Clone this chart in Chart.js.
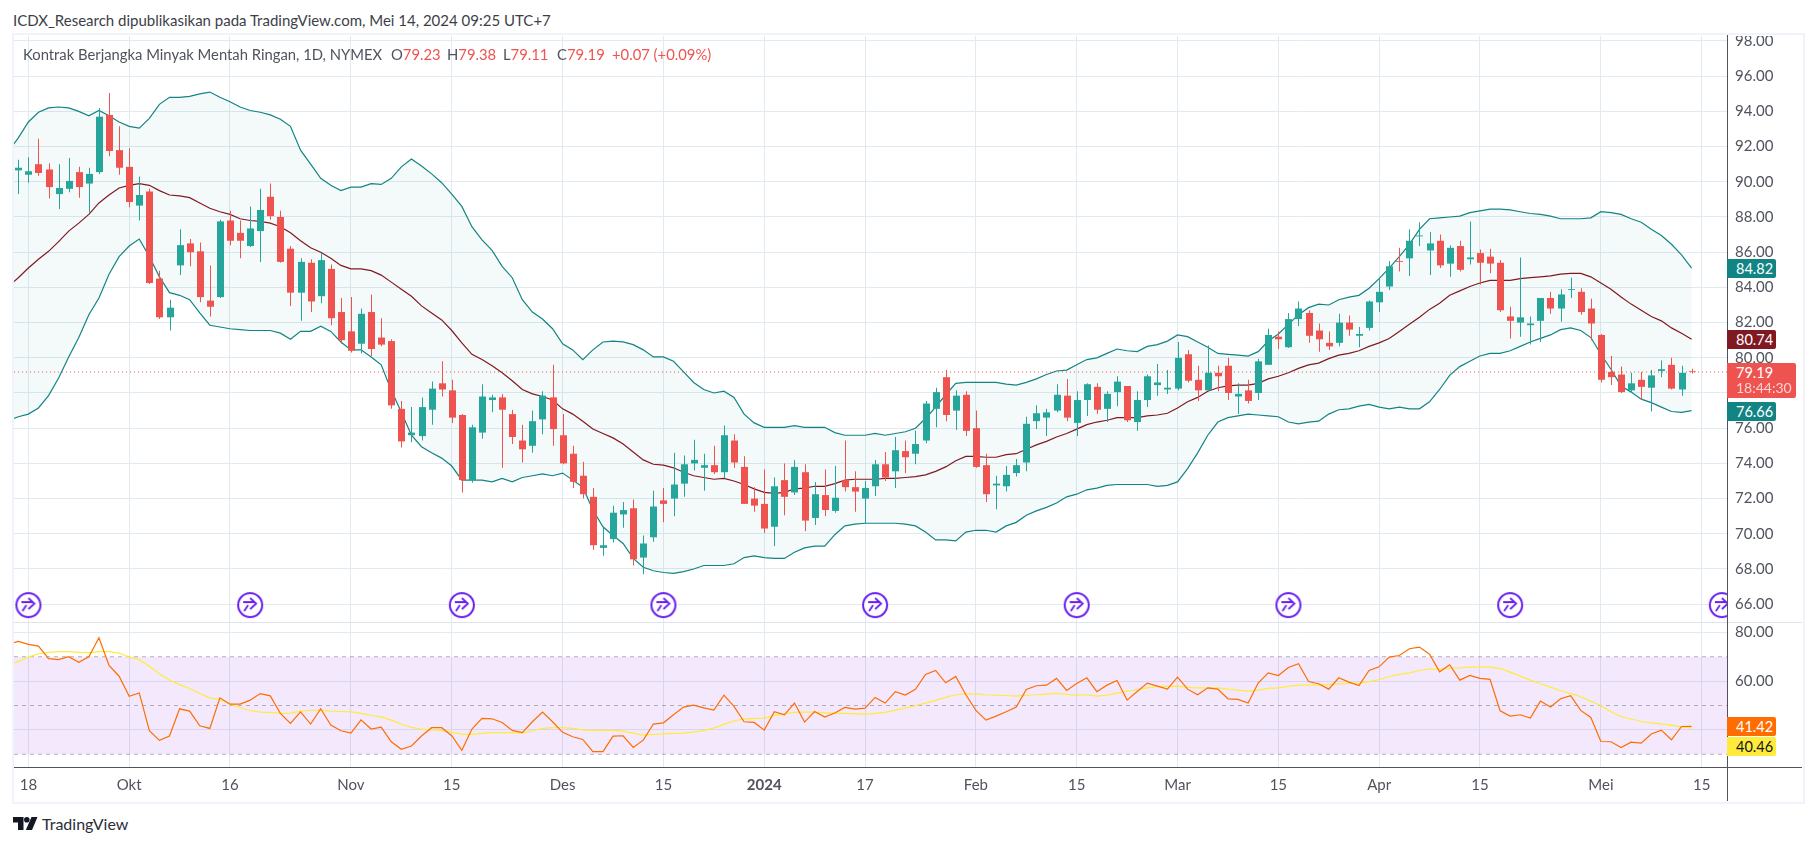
<!DOCTYPE html>
<html>
<head>
<meta charset="utf-8">
<title>Kontrak Berjangka Minyak Mentah Ringan</title>
<script src="https://cdn.jsdelivr.net/npm/chart.js@4"></script>
<style>
  html, body { margin: 0; background: #fff; overflow: hidden; font-family: Lato, sans-serif; }
  canvas { position: absolute; }
  .abs { position: absolute; white-space: nowrap; }
  .tag { position: absolute; left: 1727px; width: 40px; padding-left: 9px; height: 19px; line-height: 19px; color: #fff; font-size: 14.5px; border-radius: 0 2px 2px 0; }
</style>
</head>
<body>
<div class="abs" style="left:13px;top:11px;font-size:15px;color:#3d3f48">ICDX_Research dipublikasikan pada TradingView.com, Mei 14, 2024 09:25 UTC+7</div>
<div class="abs" style="left:12px;top:33px;width:1789px;height:767px;border:2px solid #f0f3fa"></div>

<canvas id="priceChart" width="1788" height="586" style="left:14px;top:36px"></canvas>
<canvas id="rsiChart" width="1788" height="178" style="left:14px;top:623px"></canvas>

<div class="abs" style="left:14px;top:622px;width:1788px;height:1px;background:#dfe3ee"></div>
<div class="abs" style="left:14px;top:767px;width:1788px;height:1px;background:#50535e"></div>
<div class="abs" style="left:1727px;top:35px;width:1px;height:766px;background:#50535e"></div>

<div class="abs" style="left:23px;top:45px;font-size:14.8px;color:#50535e">Kontrak Berjangka Minyak Mentah Ringan, 1D, NYMEX</div>
<div class="abs" style="left:391px;top:45px;font-size:14.8px;color:#50535e">O<span style="color:#ef5350">79.23</span></div>
<div class="abs" style="left:447px;top:45px;font-size:14.8px;color:#50535e">H<span style="color:#ef5350">79.38</span></div>
<div class="abs" style="left:503px;top:45px;font-size:14.8px;color:#50535e">L<span style="color:#ef5350">79.11</span></div>
<div class="abs" style="left:557px;top:45px;font-size:14.8px;color:#50535e">C<span style="color:#ef5350">79.19</span></div>
<div class="abs" style="left:612px;top:45px;font-size:14.8px;color:#ef5350">+0.07 (+0.09%)</div>

<div class="tag" style="top:259px;background:#138484">84.82</div>
<div class="tag" style="top:330px;background:#801922">80.74</div>
<div class="tag" style="top:363px;width:60px;height:35px;background:#ef5350">79.19<div style="line-height:15px;font-size:14px;opacity:.75;margin-top:-2px">18:44:30</div></div>
<div class="tag" style="top:402px;background:#138484">76.66</div>
<div class="tag" style="top:717px;background:#ff6d00">41.42</div>
<div class="tag" style="top:737px;background:#ffeb3b;color:#131722">40.46</div>

<svg class="abs" style="left:13px;top:817px" width="25" height="13" viewBox="0 0 25 13" fill="#131722">
  <polygon points="0,0 10.5,0 10.5,13 5,13 5,5.5 0,5.5"/><circle cx="13.8" cy="2.8" r="2.8"/><polygon points="18.5,0 24.5,0 19,13 12.8,13"/>
</svg>
<div class="abs" style="left:42px;top:814px;font-size:16px;color:#2a2e39">TradingView</div>

<script>
// values, first candle is the one at the left edge
const opens = [90.65,90.4,91,90.7,89.3,89.6,90.55,89.9,90.55,93.8,
  91.8,90.85,88.65,89.45,84.5,82.3,85.25,86.5,86.05,83.25,
  83.45,87.8,87.1,86.35,87.2,89.15,88,86.2,83.7,85.4,
  83.5,85.05,82.6,81.5,80.8,82.6,81.15,80.95,77.1,75.6,
  75.55,77.05,78.55,78.15,76.75,73.05,75.75,77.6,77.75,76.8,
  75.3,75,76.5,77.75,75.6,74.55,73.3,72.1,69.2,69.7,
  71.1,71.45,68.65,69.8,71.9,72,72.85,74,73.75,73.9,
  73.5,75.3,73.8,72,71.7,70.4,73.05,72.35,73.5,70.9,
  72.2,71.3,73.05,72.65,72,72.7,73.95,73.55,74.7,74.55,
  75.3,77.1,78.9,77,77.9,76,73.9,72.75,72.7,73.45,
  74.05,76.4,76.6,77,77.85,76.3,77.6,78.35,77.1,78.05,
  78.4,76.35,77.6,78.45,78.2,78.25,80.2,78.75,78.15,79.15,
  79.55,77.8,78.15,78,79.6,81.2,80.6,82.2,82.55,81.55,
  80.85,80.85,82,81.25,81.7,83.15,84.05,85.5,85.65,86.9,
  86.1,86.65,85.35,86.35,85.6,85.95,85.75,85.4,82.35,82,
  81.85,82.1,83.4,82.8,83.85,83.75,82.8,81.3,79.2,79.05,
  78.15,78.75,78.3,79.25,79.6,78.2,79.23];
const highs = [91.25,91.4,92.45,91.05,91,91.35,90.85,90.8,94.2,95.05,
  93.15,91.9,90.3,89.6,84.95,83.3,87.3,86.75,86.55,85.25,
  87.85,88.35,87.8,88.6,89.6,89.9,88.35,86.35,85.65,85.6,
  85.95,85.3,83.4,83.45,82.8,83.6,82.25,81.05,77.55,77.2,
  77.75,78.65,79.8,78.75,76.8,76.2,78.5,77.9,77.95,77.05,
  76.2,77,78.1,79.6,76.8,75,74.1,72.6,70.35,71.6,
  71.8,71.95,69.9,72.45,72.6,74.6,74.45,75.35,74.55,75,
  76.15,75.65,74.4,72.65,73.65,73.2,74,74.2,73.95,72.95,
  73.65,73.85,75.3,73.55,73,74.2,74.65,75.5,75.3,75.85,
  77.55,78.3,79.3,78.15,78.1,77,74.55,73.3,73.85,74.25,
  76.65,77.3,77.1,78.5,78.8,78.1,78.55,78.55,78.1,78.95,
  78.4,78.1,79.05,79.65,79.3,80.9,80.45,79.55,80.7,79.55,
  80,78.55,78.75,79.95,81.65,81.5,82.55,83.2,82.7,81.95,
  81.5,82.5,82.4,81.75,83.25,84.5,85.5,86.25,87.3,87.7,
  87.15,87,86.4,86.65,87.75,86.15,86.2,85.55,82.9,85.7,
  82.35,83.4,83.75,83.9,84.55,83.95,83.35,81.35,80.1,79.5,
  79.15,79.2,79.3,79.85,80,79.55,79.38];
const lows = [89.3,89.95,90.35,89.05,88.45,89.4,89.1,88.25,90.45,91.45,
  90.4,88.55,87.8,84.2,82.2,81.55,84.7,85.2,83.15,82.35,
  83.4,86.4,85.65,86.3,85.45,87.85,85.4,82.95,82.1,82.6,
  83.1,81.85,80.8,80.3,80.25,80.1,80.65,77.1,74.9,75.2,
  75.3,76.2,77.8,76.3,72.35,72.9,75.4,76.9,73.75,75.1,
  74.05,74.6,75.65,75,73.95,72.6,72,69.1,68.75,69.5,
  70.35,68.2,67.7,69.55,70.65,71,72.1,73.6,72.45,73.4,
  73.15,73.75,71.7,71.25,70.05,69.3,71.05,72.2,70.15,70.5,
  71,71.2,72.4,71.25,70.55,72.15,73,72.6,73.45,73.95,
  75.15,76.05,76.4,75.9,75.55,73.75,71.8,71.4,72.4,73.25,
  73.55,75.95,75.55,76.9,76.4,75.55,76.7,76.8,76.35,77.25,
  76.35,75.85,77.2,77.85,77.95,78.15,78.6,77.55,78.1,78.1,
  77.6,76.8,77.4,77.6,79.6,80.5,80.55,81.8,80.85,80.35,
  80.45,80.65,81.25,80.6,81.55,82.6,83.85,84.9,84.65,86.35,
  84.7,85.1,84.6,84.9,85.3,84.15,84.8,82.6,81.1,81.2,
  80.75,80.9,82.5,82.05,83.4,82.45,81,78.6,78.45,78,
  78,77.6,76.95,78.9,78.2,77.85,79.11];
const closes = [90.8,90.6,90.5,89.7,89.65,90.05,89.7,90.45,93.7,91.75,
  90.8,88.85,89.25,84.25,82.3,82.85,86.4,86,83.45,82.9,
  87.75,86.65,86.65,87.35,88.4,88.05,85.45,83.7,85.45,83.2,
  85.55,82.25,81,80.4,82.5,80.5,80.75,77.3,75.25,75.75,
  77.2,78.25,78.2,76.6,73.05,76.05,77.8,77.75,77.05,75.5,
  74.8,76.4,77.85,75.95,74,72.95,72.25,69.35,69.35,71.2,
  71.35,68.55,69.45,71.55,71.7,72.8,73.95,74.2,73.9,73.5,
  75.6,74.05,71.7,71.6,70.3,72.7,72.1,73.8,70.75,72.25,
  71.35,72.05,72.65,72.4,72.6,73.95,73.2,74.75,74.35,75.1,
  77.4,78.05,76.75,77.85,75.85,73.8,72.25,72.85,73.35,73.9,
  76.25,76.85,76.9,77.9,76.6,77.6,78.5,77.05,77.95,78.65,
  76.45,77.6,78.95,78.6,78.3,80,78.7,78.15,79.15,78.95,
  78,77.95,77.55,79.8,81.3,81.05,82.2,82.8,81.25,81.05,
  80.65,82,81.6,81.35,83.2,83.75,85.2,85.45,86.65,86.95,
  86.5,85.25,86.25,85,85.7,85.4,85.35,82.7,82.1,82.3,
  81.95,83.4,82.8,83.6,83.9,82.6,81.95,78.75,78.9,78.05,
  78.55,78.35,79,79.35,78.25,79.15,79.19];

// the indicator lines start one bar earlier, off the left edge
const bandUpper = [91.7,92.5,93.4,93.95,94.2,94.25,94.2,94,93.75,94.05,
  93.75,93.4,93.15,93.05,93.6,94.4,94.8,94.8,94.85,95,
  95.1,94.8,94.55,94.25,94.05,93.95,93.8,93.55,93.15,91.8,
  91,90.2,89.8,89.5,89.7,89.7,89.9,89.85,90.2,90.85,
  91.3,90.9,90.45,89.95,89.3,88.6,87.45,86.7,86.1,85.2,
  84.55,83.3,82.6,82.2,81.65,80.8,80.45,79.9,80.45,80.9,
  80.95,80.9,80.75,80.45,80.05,80.05,79.8,79.2,78.6,78.2,
  78,78.1,77.75,76.8,76.3,76.05,76.05,76.05,76.15,76.05,
  76.05,76.05,75.75,75.6,75.6,75.6,75.7,75.6,75.7,75.8,
  76,76.55,77.2,77.9,78.55,78.6,78.6,78.6,78.6,78.5,
  78.45,78.6,78.8,79.05,79.25,79.3,79.6,79.9,80,80.25,
  80.5,80.4,80.35,80.65,80.75,80.95,81.3,81.2,80.9,80.6,
  80.25,80.2,80.15,80.1,80.35,80.95,81.35,81.9,82.45,82.85,
  83.05,83,83.3,83.45,83.55,83.95,84.5,85.1,85.75,86.45,
  87.3,87.9,87.95,88,88.05,88.25,88.35,88.45,88.45,88.4,
  88.3,88.2,88.15,88.05,87.9,87.9,87.9,87.95,88.3,88.25,
  88.15,87.9,87.7,87.3,86.95,86.45,85.85,85.1];
const bandBasis = [84.05,84.55,85.1,85.6,86.05,86.6,87.2,87.65,88.15,88.8,
  89.25,89.65,89.8,89.9,89.8,89.5,89.25,89.2,89.1,88.8,
  88.5,88.3,88.15,87.9,87.8,87.75,87.65,87.45,87.1,86.65,
  86.25,86,85.65,85.25,85.05,85.05,84.95,84.7,84.3,83.9,
  83.5,82.95,82.55,82.15,81.55,80.85,80.2,79.9,79.55,79.15,
  78.7,78.2,77.95,77.8,77.6,77.1,76.8,76.4,75.95,75.7,
  75.45,75.1,74.65,74.2,73.95,73.9,73.75,73.5,73.3,73.2,
  73.1,73.15,73,72.8,72.55,72.35,72.3,72.35,72.55,72.6,
  72.7,72.7,72.85,73.05,73.1,73.1,73.1,73.15,73.15,73.2,
  73.25,73.35,73.55,73.8,74.15,74.4,74.4,74.35,74.35,74.5,
  74.55,74.8,75.05,75.25,75.5,75.7,75.95,76.2,76.35,76.45,
  76.6,76.6,76.6,76.7,76.75,76.85,77.15,77.5,77.75,78.1,
  78.3,78.4,78.45,78.45,78.55,78.8,78.95,79.15,79.4,79.6,
  79.7,79.95,80.15,80.25,80.4,80.65,80.85,81.1,81.5,81.9,
  82.3,82.75,83.1,83.55,83.8,84.05,84.25,84.4,84.4,84.4,
  84.5,84.55,84.6,84.65,84.75,84.8,84.8,84.6,84.25,83.9,
  83.45,83.05,82.7,82.35,82.1,81.7,81.4,81.05];
const bandLower = [76.45,76.65,76.8,77.15,77.85,78.85,80.05,81.15,82.45,83.4,
  84.75,85.75,86.35,86.75,85.75,84.6,83.7,83.55,83.3,82.55,
  81.85,81.75,81.65,81.6,81.55,81.55,81.55,81.4,81.05,81.5,
  81.5,81.8,81.5,80.9,80.45,80.45,80.05,79.6,78.15,76.9,
  75.6,74.95,74.6,74.3,73.85,73.05,73.05,73.05,72.95,73.15,
  72.95,73.2,73.3,73.4,73.3,73.45,73.05,72.65,71.35,70.4,
  69.9,69.45,68.6,68.1,67.9,67.8,67.75,67.85,68,68.2,
  68.2,68.2,68.3,68.65,68.75,68.65,68.6,68.6,68.95,69.2,
  69.3,69.3,69.95,70.45,70.55,70.6,70.6,70.6,70.6,70.55,
  70.45,70.1,69.65,69.65,69.6,70.1,70.2,70.2,70.1,70.45,
  70.65,71.05,71.3,71.5,71.75,72.1,72.25,72.5,72.6,72.75,
  72.8,72.8,72.8,72.8,72.7,72.75,72.95,73.7,74.6,75.6,
  76.35,76.6,76.7,76.8,76.75,76.7,76.65,76.35,76.25,76.35,
  76.4,76.8,77.05,77.1,77.25,77.35,77.2,77.1,77.2,77.1,
  77.1,77.5,78.2,79,79.5,79.8,80.1,80.25,80.25,80.4,
  80.65,80.9,81.1,81.3,81.6,81.7,81.55,81.15,80.2,79.35,
  78.4,78.05,77.65,77.45,77.2,76.95,76.9,77];
const rsiValues = [75.05,76.25,75.05,74.35,69.2,68.8,70,67.7,70,77.75,
  66.45,62,53.8,55.15,39.65,35.7,37.5,48.65,47.7,41.7,
  40.6,53.15,50.55,50.55,52.2,54.9,53.95,46.75,42.65,47.4,
  42.4,48.65,42,39.65,38.7,44.15,40.35,41.15,35.15,32.05,
  33.4,37.5,40.9,40.9,37.6,31.65,40.35,44.7,44.55,43.05,
  39.8,38.85,43.35,47.3,43.35,39,37.2,36.1,31.1,31.1,
  37.45,37.6,32.8,35.8,42.4,42.9,46.2,49.35,50.15,49.05,
  48.1,54.25,49.6,43.35,43.05,39.9,47.45,46.2,51,43.2,
  47.55,45.25,46.9,49.2,48.5,48.95,53.3,51,55.65,54.25,
  56.6,62.75,64.35,59.3,61.9,54.4,48,44,45.65,47.45,
  49.35,56.6,58.1,58.35,61.1,56.2,59.05,61.35,55.65,58.35,
  60.25,52.2,55.75,59.2,57.95,56.7,61.65,56.7,54.4,57.25,
  56.7,52.75,52.5,51,59.2,63.4,62.3,65.6,67.1,59.85,
  58.9,56.7,61.35,59.6,58.2,64.35,65.85,69.85,70.5,73.25,
  73.95,71.05,63.8,66.7,60.4,62.3,61.1,60.7,47.85,45.65,
  46.2,44.85,51.8,49.35,52.75,54,48,45.1,35.25,35.15,
  32.8,35,34.6,38.3,39.9,35.95,41.4,41.42];
const rsiAverage = [66.35,68.1,69.85,71.2,71.75,72.05,72.05,71.75,71.65,72.05,
  72.05,71.5,69.85,68.8,66.05,63.05,60.35,58.55,56.95,54.9,
  53.15,52.45,50.55,49.2,47.95,47.3,47.15,46.75,46.85,47.7,
  47.95,48.1,47.7,47.55,47.4,46.75,45.9,45.35,44,42.4,
  41,40.35,40.05,39.8,39.1,38.15,38.15,38.55,38.85,38.85,
  38.85,38.7,39.65,40.6,40.9,40.9,40.6,40.05,39.8,39.8,
  39.9,39.5,38.7,37.85,38.15,38.4,38.55,38.7,39.1,39.8,
  40.75,42.25,43.75,44.4,44.7,44.85,45.95,46.6,47.15,47.3,
  47.3,47,46.75,46.75,46.6,46.5,46.75,47.15,48.1,49.05,
  49.9,51,52.1,53.3,54.4,54.8,54.8,54.4,54.25,54.1,
  53.85,54.25,54.4,54.65,54.95,54.55,54.25,54.4,53.85,54.25,
  55.1,55.9,56.45,57.25,57.8,57.8,57.95,57.4,57.25,57.25,
  57.25,56.7,56.3,55.9,56.3,57,57.25,57.8,58.35,58.35,
  58.35,58.65,58.9,59.05,59.2,59.75,60.55,61.9,62.75,63.4,
  64.35,64.9,64.9,65.35,65.45,65.75,65.75,65.75,65.2,63.7,
  62.05,60.4,58.9,57.55,56.05,54.95,53.6,51.8,49.9,47.45,
  45.5,44.45,43.45,42.9,42.5,41.95,41.25,40.8];

const lastPrice = 79.19;
const priceTicks = [66,68,70,72,74,76,78,80,82,84,86,88,90,92,94,96,98];
const rsiTicks = [40,60,80];
const rsiLevels = [70,50,30];
const timeBars = [1,11,21,33,43,54,64,74,84,95,105,115,125,135,145,157,167];
const timeLabels = ['18','Okt','16','Nov','15','Des','15','2024','17','Feb','15','Mar','15','Apr','15','Mei','15'];
const eventBars = [1,23,44,64,85,105,126,148,169];
const eventLevel = 65.95;

const xMin = -0.427, xMax = 169.51;
const green = '#26a69a', red = '#ef5350';
const gridColor = '#e0eaf1';
const tickFont = { family: 'Lato, sans-serif', size: 15 };

function linePoints(values) {
  return values.map((v, i) => ({ x: i - 1, y: v }));
}
function levelPoints(v) {
  return [{ x: xMin, y: v }, { x: xMax, y: v }];
}
const upColor = closes.map((c, i) => c >= opens[i] ? green : red);

// small round marker used for the events above the time axis
function eventIcon() {
  const c = document.createElement('canvas');
  c.width = 28; c.height = 28;
  const g = c.getContext('2d');
  g.strokeStyle = '#6a1ff0';
  g.fillStyle = '#fff';
  g.lineWidth = 2;
  g.beginPath(); g.arc(14, 14, 12, 0, Math.PI * 2); g.fill(); g.stroke();
  g.lineWidth = 1.8;
  g.beginPath();
  g.moveTo(7, 11); g.lineTo(18, 11); g.moveTo(14, 7); g.lineTo(20, 12.5); g.lineTo(14, 18);
  g.moveTo(12, 14); g.lineTo(8, 20);
  g.stroke();
  return c;
}

// candles look crisp only on whole pixels
const snapBars = {
  id: 'snapBars',
  beforeDatasetsDraw(chart) {
    chart.getSortedVisibleDatasetMetas().forEach(meta => {
      if (meta.type !== 'bar') return;
      meta.data.forEach(el => { el.x = Math.round(el.x) + 0.5; });
    });
  }
};

function timeAxis(height, showLabels) {
  return {
    type: 'linear', min: xMin, max: xMax, offset: false,
    afterBuildTicks: s => { s.ticks = timeBars.map(v => ({ value: v })); },
    afterFit: s => { s.height = height; s.paddingLeft = 0; s.paddingRight = 0; },
    border: { display: false },
    grid: { color: gridColor, drawTicks: false, offset: false },
    ticks: {
      display: showLabels, autoSkip: false, maxRotation: 0, padding: 9, color: '#50535e',
      font: c => (c.tick && c.tick.value === 74) ? { ...tickFont, weight: 'bold' } : tickFont,
      callback: v => timeLabels[timeBars.indexOf(v)]
    }
  };
}
function valueAxis(min, max, ticks) {
  return {
    position: 'right', min: min, max: max,
    afterBuildTicks: s => { s.ticks = ticks.map(v => ({ value: v })); },
    afterFit: s => { s.width = 75; s.paddingTop = 0; s.paddingBottom = 0; },
    border: { display: false },
    grid: { color: gridColor, drawTicks: false },
    ticks: { autoSkip: false, padding: 8, color: '#50535e', font: tickFont, callback: v => v.toFixed(2) }
  };
}
const common = {
  responsive: false, animation: false, devicePixelRatio: 1,
  layout: { padding: 0, autoPadding: false },
  plugins: { legend: { display: false }, tooltip: { enabled: false } },
  events: []
};

new Chart(document.getElementById('priceChart'), {
  type: 'line',
  plugins: [snapBars],
  data: { datasets: [
    { label: 'Upper', data: linePoints(bandUpper), borderColor: '#138484', borderWidth: 1.2, pointRadius: 0,
      fill: { target: 2 }, backgroundColor: 'rgba(0,150,136,0.045)', order: 6 },
    { label: 'Basis', data: linePoints(bandBasis), borderColor: '#801922', borderWidth: 1.2, pointRadius: 0, order: 5 },
    { label: 'Lower', data: linePoints(bandLower), borderColor: '#138484', borderWidth: 1.2, pointRadius: 0, order: 5 },
    { label: 'Last', data: levelPoints(lastPrice), borderColor: red, borderWidth: 1, borderDash: [1, 3], pointRadius: 0, order: 4 },
    { type: 'bar', label: 'Wick', grouped: false, barThickness: 1, borderWidth: 0, inflateAmount: 0,
      data: opens.map((o, i) => ({ x: i, y: [lows[i], highs[i]] })), backgroundColor: upColor, order: 3 },
    { type: 'bar', label: 'Body', grouped: false, barThickness: 7, borderWidth: 0, inflateAmount: 0,
      data: opens.map((o, i) => ({ x: i, y: [Math.min(o, closes[i]), Math.max(o, closes[i])] })), backgroundColor: upColor, order: 2 },
    { type: 'scatter', label: 'Events', showLine: false, data: eventBars.map(b => ({ x: b, y: eventLevel })),
      pointStyle: eventIcon(), order: 1 }
  ] },
  options: { ...common, scales: {
    x: timeAxis(0, false),
    y: valueAxis(66 - 17.8 / 17.6, 98 + 5 / 17.6, priceTicks)
  } }
});

new Chart(document.getElementById('rsiChart'), {
  type: 'line',
  data: { datasets: [
    { label: '70', data: levelPoints(rsiLevels[0]), borderColor: 'rgba(120,123,134,0.55)', borderWidth: 1, borderDash: [4, 4], pointRadius: 0,
      fill: { target: 2 }, backgroundColor: 'rgba(155,38,238,0.105)', order: 5 },
    { label: '50', data: levelPoints(rsiLevels[1]), borderColor: 'rgba(120,123,134,0.55)', borderWidth: 1, borderDash: [4, 4], pointRadius: 0, order: 4 },
    { label: '30', data: levelPoints(rsiLevels[2]), borderColor: 'rgba(120,123,134,0.55)', borderWidth: 1, borderDash: [4, 4], pointRadius: 0, order: 4 },
    { label: 'RSI MA', data: linePoints(rsiAverage), borderColor: '#ffeb3b', borderWidth: 1.2, pointRadius: 0, order: 3 },
    { label: 'RSI', data: linePoints(rsiValues), borderColor: '#ff6d00', borderWidth: 1.2, pointRadius: 0, order: 2 }
  ] },
  options: { ...common, scales: {
    x: timeAxis(34, true),
    y: valueAxis(30 - 12.7 / 2.44, 80 + 9.3 / 2.44, rsiTicks)
  } }
});
</script>
</body>
</html>
